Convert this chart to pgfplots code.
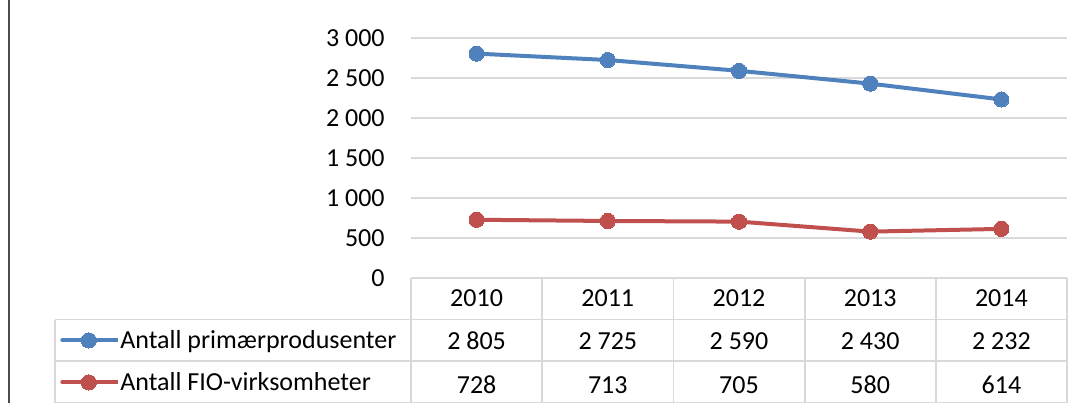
\documentclass[border=0pt]{standalone}
\usepackage{pgfplots}
\pgfplotsset{compat=1.18}
\usepackage{fontspec}
\setmainfont{Carlito}
\definecolor{xblue}{HTML}{4F81BD}
\definecolor{xred}{HTML}{C0504D}
\definecolor{gridc}{HTML}{D9D9D9}
\newcommand{\fs}{\fontsize{13pt}{15pt}\selectfont}
\begin{document}
\begin{tikzpicture}
\useasboundingbox (0,0) rectangle (541pt,-201.5pt);
\begin{axis}[
  scale only axis, width=328pt, height=120pt,
  at={(205.5pt,-139pt)}, anchor=south west,
  xmin=-0.5, xmax=4.5, ymin=0, ymax=3000,
  xtick=\empty,
  ytick={0,500,1000,1500,2000,2500,3000},
  yticklabels={0,500,1 000,1 500,2 000,2 500,3 000},
  yticklabel style={font=\fs, anchor=east, inner sep=0pt, xshift=-13pt},
  major tick length=0pt,
  ymajorgrids, grid style={draw=gridc, line width=0.75pt},
  axis line style={draw=none},
  clip=false,
  legend style={at={(axis description cs:-0.5351,-0.1708)}, anchor=north west,
    draw=none, fill=none, inner sep=0pt, row sep=0pt, font=\fs,
    nodes={inner sep=0pt, text height=14.7pt, text depth=6.3pt}},
  legend cell align=left,
  legend image code/.code={\path (0pt,0pt) -- (28pt,0pt);
    \draw[#1, mark repeat=2, mark phase=2, line cap=round] plot coordinates {(0pt,0pt) (13.25pt,0pt) (26.5pt,0pt)};},
]
\addplot[xblue, line width=2pt, mark=*, mark size=3.8pt, mark options={line width=0pt}]
  coordinates {(0,2805) (1,2725) (2,2590) (3,2430) (4,2232)};
\addlegendentry{Antall primærprodusenter}
\addplot[xred, line width=2pt, mark=*, mark size=3.8pt, mark options={line width=0pt}]
  coordinates {(0,728) (1,713) (2,705) (3,580) (4,614)};
\addlegendentry{Antall FIO-virksomheter}
\end{axis}
\begin{scope}[x=0.5pt,y=-0.5pt]
  \draw[black!70, line width=0.6pt] (9,0) -- (9,403);
  \begin{scope}[draw=gridc, line width=0.9pt]
    \draw (411,278) -- (1067,278);
    \draw (55,319.5) -- (1067,319.5);
    \draw (55,361) -- (1067,361);
    \draw (55,402.5) -- (1067,402.5);
    \draw (55,319.5) -- (55,402.5);
    \foreach \x in {411,542.2,673.4,804.6,935.8,1067} \draw (\x,278) -- (\x,402.5);
  \end{scope}
  \foreach \x/\yr/\a/\b in {476.6/2010/2 805/728, 607.8/2011/2 725/713, 739/2012/2 590/705, 870.2/2013/2 430/580, 1001.4/2014/2 232/614} {
    \node[font=\fs, anchor=base, inner sep=0pt] at (\x,306.5) {\yr};
    \node[font=\fs, anchor=base, inner sep=0pt] at (\x,349.5) {\a};
    \node[font=\fs, anchor=base, inner sep=0pt] at (\x,393) {\b};
  }
\end{scope}
\end{tikzpicture}
\end{document}
